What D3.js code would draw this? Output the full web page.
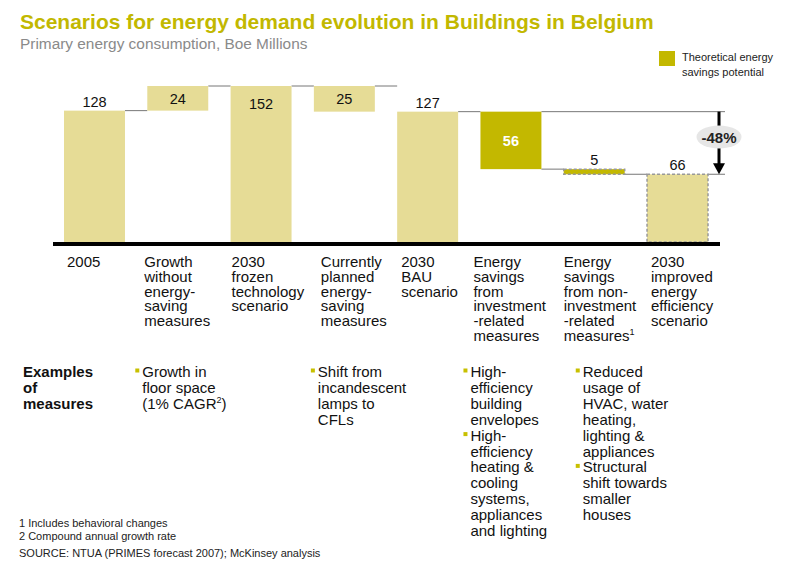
<!DOCTYPE html>
<html><head><meta charset="utf-8">
<script src="https://cdn.jsdelivr.net/npm/d3@7"></script>
<style>
html,body{margin:0;padding:0;background:#fff;}
svg{display:block;font-family:"Liberation Sans",Arial,sans-serif;}
</style></head>
<body>
<svg id="chart" width="787" height="569"></svg>
<script>
// ---- data ----
const titleText = "Scenarios for energy demand evolution in Buildings in Belgium";
const subtitleText = "Primary energy consumption, Boe Millions";
const categories = ["2005","Growth","2030 frozen","Currently planned","2030 BAU","Investment savings","Non-investment savings","2030 improved"];
const categoryLabels = [
  ["2005"],
  ["Growth","without","energy-","saving","measures"],
  ["2030","frozen","technology","scenario"],
  ["Currently","planned","energy-","saving","measures"],
  ["2030","BAU","scenario"],
  ["Energy","savings","from","investment","-related","measures"],
  ["Energy","savings","from non-","investment","-related","measures¹"],
  ["2030","improved","energy","efficiency","scenario"]
];
const barStart = [0, 128, 0, 127, 0, 71, 66, 0];
const barEnd   = [128, 152, 152, 152, 127, 127, 71, 66];
const barValues = [128, 24, 152, 25, 127, 56, 5, 66];
const barKinds = ["base","base","base","base","base","savings","savings-dashed","base-dashed"];
const labelPlacement = ["above","inside","top","inside","above","inside","above","above"];
const reductionLabel = "-48%";
const legendLabel = ["Theoretical energy","savings potential"];
const examplesHeader = ["Examples","of","measures"];
const exampleColumns = [1, 3, 5, 6];
const examples = [
  [["Growth in","floor space","(1% CAGR²)"]],
  [["Shift from","incandescent","lamps to","CFLs"]],
  [["High-","efficiency","building","envelopes"],["High-","efficiency","heating &","cooling","systems,","appliances","and lighting"]],
  [["Reduced","usage of","HVAC, water","heating,","lighting &","appliances"],["Structural","shift towards","smaller","houses"]]
];
const footnotes = ["1 Includes behavioral changes","2 Compound annual growth rate","SOURCE: NTUA (PRIMES forecast 2007); McKinsey analysis"];

// ---- layout / styles ----
const LIGHT = "#E6DC96", DARK = "#C3B800", TITLE = "#C2B800";
const catLabelOffset = [3, -3, 1, 7, 4, -7, 0, 4];
const exampleBulletOffset = [-12, -3, -17, 12];
const svg = d3.select("#chart");

svg.append("text").attr("x",20).attr("y",29).attr("font-size",21).attr("font-weight","bold")
  .attr("fill",TITLE).text(titleText);
svg.append("text").attr("x",20).attr("y",49).attr("font-size",15.4).attr("fill","#8a8a8a").text(subtitleText);

const x = d3.scaleBand().domain(categories).range([64,708]).paddingInner(0.268).paddingOuter(0);
const y = d3.scaleLinear().domain([0,152]).range([242,86]);
const bw = x.bandwidth();

// connectors
const g = svg.append("g");
for (let i=0;i<categories.length-1;i++){
  const level = (i===5||i===6) ? barStart[i] : barEnd[i];
  g.append("line").attr("x1",x(categories[i])+bw).attr("x2",x(categories[i+1]))
    .attr("y1",y(level)).attr("y2",y(level)).attr("stroke","#777").attr("stroke-width",1);
}
const last = categories.length-1;
g.append("line").attr("x1",x(categories[5])+bw).attr("x2",725).attr("y1",y(barEnd[4])).attr("y2",y(barEnd[4]))
  .attr("stroke","#777").attr("stroke-width",1);
g.append("line").attr("x1",x(categories[last])+bw).attr("x2",725).attr("y1",y(barEnd[last])).attr("y2",y(barEnd[last]))
  .attr("stroke","#777").attr("stroke-width",1);

// bars
categories.forEach((c,i)=>{
  const k = barKinds[i];
  const r = g.append("rect").attr("x",x(c)).attr("width",bw)
    .attr("y",y(barEnd[i])).attr("height",y(barStart[i])-y(barEnd[i]))
    .attr("fill", k.startsWith("savings") ? DARK : LIGHT);
  if (k.endsWith("dashed")) r.attr("stroke","#999").attr("stroke-width",1.5).attr("stroke-dasharray","3,2");
});

// value labels
categories.forEach((c,i)=>{
  const cx = x(c)+bw/2;
  let ty, fill="#111", fw="normal";
  if (labelPlacement[i]==="above") ty = y(barEnd[i]) - 4;
  else if (labelPlacement[i]==="top") ty = y(barEnd[i]) + 23;
  else ty = (y(barEnd[i])+y(barStart[i]))/2 + 5.5;
  if (barKinds[i]==="savings"){ fill="#fff"; fw="bold"; }
  g.append("text").attr("x",cx).attr("y",ty).attr("text-anchor","middle")
    .attr("font-size",14.5).attr("font-weight",fw).attr("fill",fill).text(barValues[i]);
});

// baseline
g.append("line").attr("x1",53).attr("x2",720).attr("y1",y(0)+2).attr("y2",y(0)+2)
  .attr("stroke","#000").attr("stroke-width",4);

// arrow + -48%
const ax = 719;
g.append("line").attr("x1",ax).attr("x2",ax).attr("y1",y(barEnd[4])).attr("y2",y(barEnd[last])-10)
  .attr("stroke","#000").attr("stroke-width",3);
g.append("path").attr("d",`M${ax-6},${y(barEnd[last])-11}L${ax+6},${y(barEnd[last])-11}L${ax},${y(barEnd[last])}Z`).attr("fill","#000");
g.append("ellipse").attr("cx",ax).attr("cy",137).attr("rx",22.5).attr("ry",11.5).attr("fill","#e6e6e6");
g.append("text").attr("x",ax).attr("y",142.5).attr("text-anchor","middle").attr("font-size",15)
  .attr("font-weight","bold").attr("fill","#222").text(reductionLabel);

// legend
svg.append("rect").attr("x",659).attr("y",51).attr("width",16).attr("height",15).attr("fill",DARK);
legendLabel.forEach((t,i)=>svg.append("text").attr("x",682).attr("y",61+i*15).attr("font-size",11)
  .attr("fill","#222").text(t));

// category labels
categories.forEach((c,i)=>{
  const lx = x(c)+catLabelOffset[i];
  const t = svg.append("text").attr("x",lx).attr("y",267).attr("font-size",15).attr("fill","#111");
  categoryLabels[i].forEach((line,j)=>{
    const sup = line.endsWith("¹");
    t.append("tspan").attr("x",lx).attr("dy", j===0?0:14.8).text(sup?line.slice(0,-1):line);
    if (sup) t.append("tspan").attr("font-size",9).attr("dy",-6).text("1");
  });
});

// examples
const ex = svg.append("text").attr("x",23).attr("y",377).attr("font-size",15).attr("font-weight","bold").attr("fill","#111");
examplesHeader.forEach((l,j)=>ex.append("tspan").attr("x",23).attr("dy",j===0?0:15.9).text(l));
examples.forEach((col,ci)=>{
  const bx = x(categories[exampleColumns[ci]]) + exampleBulletOffset[ci];
  let row = 0;
  col.forEach(item=>{
    svg.append("rect").attr("x",bx).attr("y",368.5+row*15.9).attr("width",4).attr("height",4).attr("fill","#C8C000");
    item.forEach(line=>{
      const t = svg.append("text").attr("x",bx+7).attr("y",377+row*15.9).attr("font-size",15).attr("fill","#111");
      const m = line.match(/^(.*)²(.*)$/);
      if (m){ t.append("tspan").text(m[1]); t.append("tspan").attr("font-size",9).attr("dy",-6).text("2");
              t.append("tspan").attr("dy",6).text(m[2]); }
      else t.text(line);
      row++;
    });
  });
});

// footnotes
footnotes.forEach((f,i)=>svg.append("text").attr("x",19).attr("y",[527,540,557][i]).attr("font-size",11)
  .attr("fill","#222").text(f));
</script>
</body></html>
